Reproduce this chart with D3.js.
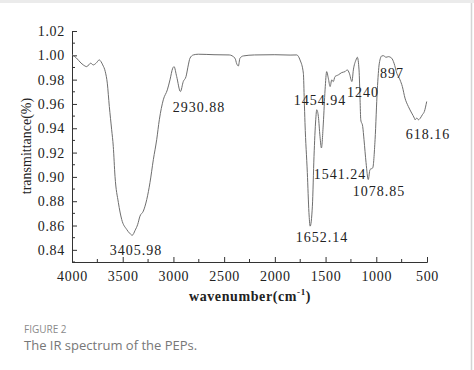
<!DOCTYPE html>
<html>
<head>
<meta charset="utf-8">
<script src="https://cdn.jsdelivr.net/npm/d3@7"></script>
<style>
  body { margin: 0; background: #fff; }
  svg text { font-family: "Liberation Serif", "Times New Roman", serif; }
</style>
</head>
<body>
<div id="plot"></div>
<script>
// Chart size
const width = 474;
const height = 370;

// Spectrum
const wavenumber = [4000, 3980, 3889, 3855, 3816, 3790, 3763, 3731, 3714, 3697, 3672, 3652, 3632, 3609, 3593, 3576, 3543, 3510, 3461, 3430, 3406,
  3378, 3352, 3330, 3297, 3263, 3231, 3198, 3165, 3139, 3100, 3060, 3034, 3007, 2994, 2968, 2931, 2903, 2876, 2853, 2837, 2804, 2755,
  2600, 2450, 2393, 2376, 2360, 2344, 2311, 2200, 2000, 1850, 1784, 1752, 1719, 1710, 1703, 1680, 1664, 1652,
  1630, 1614, 1597, 1587, 1571, 1555, 1541, 1522, 1505, 1489, 1473, 1455, 1439, 1424, 1407, 1374, 1341, 1308, 1286, 1266, 1240,
  1226, 1200, 1187, 1170, 1160, 1153, 1134, 1121, 1101, 1079, 1062, 1035, 1012, 990, 970, 946, 930, 904, 881, 848, 825, 798,
  766, 743, 717, 684, 651, 625, 618, 600, 585, 569, 546, 526, 503];
const transmittance = [1.0005, 0.9995, 0.9921, 0.9907, 0.9935, 0.9921, 0.9935, 0.9962, 0.9948, 0.9921, 0.9866, 0.9771, 0.9579, 0.9388, 0.9251, 0.9005, 0.8790, 0.8650, 0.8568, 0.8535, 0.8520,
  0.8560, 0.8610, 0.8677, 0.8718, 0.8814, 0.8954, 0.9142, 0.9306, 0.9470, 0.9634, 0.9716, 0.9798, 0.9894, 0.9907, 0.9825, 0.9702, 0.9784, 0.9825, 0.9921, 0.9976, 1.0003, 1.0009,
  1.0005, 1.0003, 0.9976, 0.9930, 0.9912, 0.9976, 0.9995, 1.0003, 1.0005, 1.0002, 1.0003, 0.9962, 0.9853, 0.9630, 0.9446, 0.9036, 0.8708, 0.8595,
  0.8759, 0.9169, 0.9470, 0.9552, 0.9497, 0.9333, 0.9238, 0.9443, 0.9716, 0.9866, 0.9812, 0.9743, 0.9798, 0.9784, 0.9825, 0.9839, 0.9858, 0.9866, 0.9880, 0.9853, 0.9784,
  0.9880, 0.9962, 0.9984, 0.9880, 0.9634, 0.9470, 0.9415, 0.9306, 0.9118, 0.8978, 0.9060, 0.9074, 0.9306, 0.9716, 0.9935, 0.9995, 0.9997, 0.9984, 0.9989, 0.9976, 0.9935, 0.9853,
  0.9798, 0.9743, 0.9648, 0.9579, 0.9525, 0.9484, 0.9470, 0.9484, 0.9470, 0.9480, 0.9511, 0.9538, 0.9620];

// Peak annotations (text, and where the label sits in data units)
const peakLabels = ["3405.98", "2930.88", "1652.14", "1541.24", "1454.94", "1240", "1078.85", "897", "618.16"];
const labelWave = [3369, 2748, 1535, 1358, 1555, 1131, 973, 845, 490];
const labelTrans = [0.8358, 0.9534, 0.8465, 0.8983, 0.9591, 0.9657, 0.8843, 0.9813, 0.9312];

// Axis ticks
const xTicks = [4000, 3500, 3000, 2500, 2000, 1500, 1000, 500];
const xMinor = [3750, 3250, 2750, 2250, 1750, 1250, 750];
const yTicks = [0.84, 0.86, 0.88, 0.90, 0.92, 0.94, 0.96, 0.98, 1.00, 1.02];
const yMinor = [0.83, 0.85, 0.87, 0.89, 0.91, 0.93, 0.95, 0.97, 0.99, 1.01];

const svg = d3.select("#plot")
  .append("svg")
  .attr("width", width)
  .attr("height", height);

// page frame
svg.append("rect").attr("x", 0).attr("y", 0).attr("width", width).attr("height", 3).attr("fill", "#ebebeb");
svg.append("line").attr("x1", 471.5).attr("x2", 471.5).attr("y1", 3).attr("y2", height)
  .attr("stroke", "#d4d4d4").attr("stroke-width", 1.5);

// Scales
const x = d3.scaleLinear().domain([4000, 500]).range([72, 427]);
const y = d3.scaleLinear().domain([0.83, 1.02]).range([262, 31]);

// Axes (ticks point inward)
const xAxis = svg.append("g")
  .attr("transform", `translate(0,${y(0.83)})`)
  .call(d3.axisBottom(x).tickValues(xTicks).tickSize(-5).tickPadding(9).tickFormat(d3.format("d")));
xAxis.append("g").selectAll("line")
  .data(xMinor).enter().append("line")
  .attr("x1", d => x(d)).attr("x2", d => x(d))
  .attr("y1", 0).attr("y2", -3)
  .attr("stroke", "#333");

const yAxis = svg.append("g")
  .attr("transform", `translate(${x(4000)},0)`)
  .call(d3.axisLeft(y).tickValues(yTicks).tickSize(-5).tickPadding(7).tickFormat(d3.format(".2f")));
yAxis.append("g").selectAll("line")
  .data(yMinor).enter().append("line")
  .attr("y1", d => y(d)).attr("y2", d => y(d))
  .attr("x1", 0).attr("x2", 3)
  .attr("stroke", "#333");

[xAxis, yAxis].forEach(g => g.attr("font-family", "Liberation Serif").attr("font-size", 14));
svg.selectAll(".domain").attr("stroke", "#333");
svg.selectAll(".tick line").attr("stroke", "#333");
svg.selectAll(".tick text")
  .attr("fill", "#222")
  .attr("font-family", "Liberation Serif")
  .style("letter-spacing", "0.7px");

// Spectrum line
const points = wavenumber.map((w, i) => [w, transmittance[i]]);
svg.append("path")
  .datum(points)
  .attr("d", d3.line().x(d => x(d[0])).y(d => y(d[1])).curve(d3.curveMonotoneX))
  .attr("fill", "none")
  .attr("stroke", "#6e6e6e")
  .attr("stroke-width", 1);

// Peak labels
svg.append("g").selectAll("text")
  .data(peakLabels).enter().append("text")
  .attr("x", (d, i) => x(labelWave[i]))
  .attr("y", (d, i) => y(labelTrans[i]))
  .attr("text-anchor", "middle")
  .attr("fill", "#222")
  .style("font-size", "14px")
  .style("letter-spacing", "1px")
  .text(d => d);

// Axis titles
const xTitle = svg.append("text")
  .attr("x", 250).attr("y", 301)
  .attr("text-anchor", "middle")
  .attr("fill", "#222")
  .style("font-size", "14px")
  .style("font-weight", "bold")
  .style("letter-spacing", "0.6px");
xTitle.append("tspan").text("wavenumber(cm");
xTitle.append("tspan").attr("dy", -6).style("font-size", "9px").text("-1");
xTitle.append("tspan").attr("dy", 6).text(")");

svg.append("text")
  .attr("transform", "translate(31,146) rotate(-90)")
  .attr("text-anchor", "middle")
  .attr("fill", "#222")
  .style("font-size", "14px")
  .text("transmittance(%)");

// Caption
svg.append("text")
  .attr("x", 24).attr("y", 333)
  .attr("fill", "#8a8a8a")
  .style("font-family", "'Open Sans', sans-serif")
  .style("font-size", "10px")
  .text("FIGURE 2");
svg.append("text")
  .attr("x", 24).attr("y", 350)
  .attr("fill", "#777")
  .style("font-family", "'Open Sans', sans-serif")
  .style("font-size", "13px")
  .text("The IR spectrum of the PEPs.");
</script>
</body>
</html>
